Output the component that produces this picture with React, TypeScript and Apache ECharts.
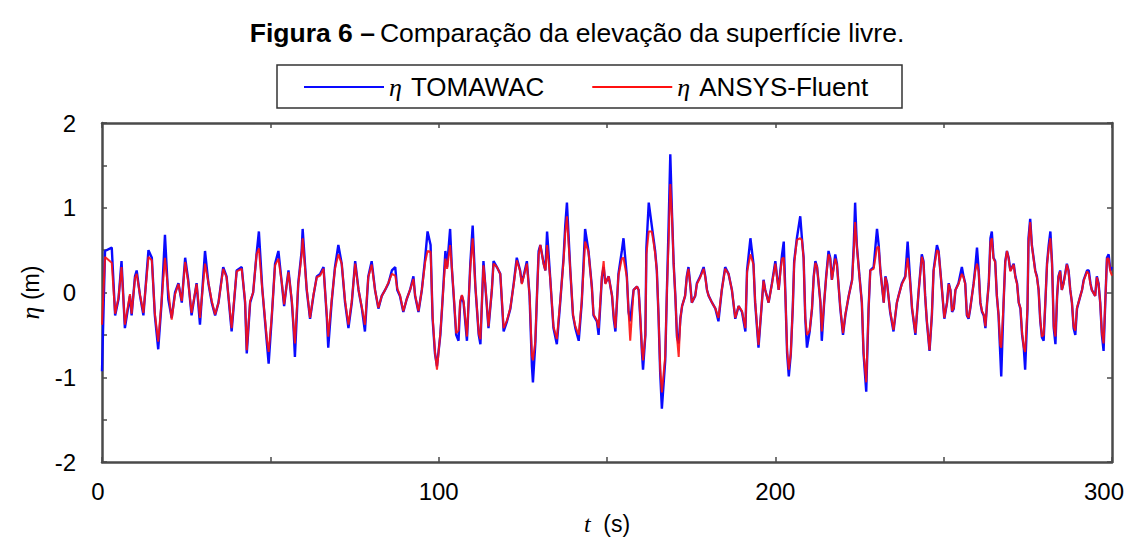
import React, { useEffect, useRef } from "react";
import * as echarts from "echarts";

const titleBold = "Figura 6 –";
const titleRest = "Comparação da elevação da superfície livre.";
const seriesNames = ["TOMAWAC", "ANSYS-Fluent"];
const xTicks = [0, 100, 200, 300];
const yTicks = [-2, -1, 0, 1, 2];

const tomawac = [
[0,-0.93],[0.9,0.49],[2.9,0.53],[3.9,-0.27],[4.9,-0.08],[5.8,0.37],[6.8,-0.42],[8.3,-0.04],[8.8,-0.27],[9.8,0.19],[10.3,0.26],[11.3,-0.04],[12.3,-0.27],[13.8,0.5],[14.8,0.41],[15.7,-0.27],[16.7,-0.67],[17.7,-0.12],[18.7,0.68],[19.7,-0.08],[20.7,-0.3],[21.7,0],[22.7,0.11],[23.7,-0.12],[24.7,0.41],[25.6,0.15],[26.6,-0.27],[28.1,0.11],[29.1,-0.38],[30.6,0.49],[31.6,0.11],[32.6,-0.12],[33.6,-0.27],[34.6,-0.12],[36,0.3],[37,0.19],[38.5,-0.46],[40,0.26],[41.5,0.3],[42.5,-0.12],[43,-0.72],[44,-0.12],[44.9,0],[45.9,0.45],[46.6,0.72],[47.6,0.05],[49,-0.61],[49.5,-0.84],
[50.4,-0.31],[51.4,0.34],[52.4,0.49],[53.4,0.11],[54.1,-0.16],[54.9,0.11],[55.4,0.26],[56.4,-0.12],[56.9,-0.42],[57.3,-0.76],[58.3,0.11],[59.3,0.49],[59.6,0.75],[60.8,0.03],[61.8,-0.31],[62.8,-0.04],[63.8,0.19],[64.8,0.22],[65.8,0.3],[66.8,-0.31],[67.2,-0.65],[68.2,-0.12],[69.2,0.3],[70.2,0.56],[71.2,0.34],[72.2,-0.12],[73.2,-0.42],[74.2,-0.12],[75.2,0.37],[76.2,0.03],[77.2,-0.19],[78.1,-0.46],[79.1,0.19],[80.1,0.37],[81.1,0.03],[82.1,-0.19],[83.1,-0.04],[84.1,0.03],[85.1,0.11],[86.1,0.26],[87.1,0.3],[87.7,0.03],[88.5,-0.04],[89.5,-0.23],[90.5,-0.08],[91.5,0.03],[92.5,0.19],[93,-0.04],[94,-0.23],[95,0.03],[96,0.41],[96.7,0.72],[97.6,0.56],[98.2,-0.31],[98.9,-0.72],[99.5,-0.87],
[100.5,-0.5],[101,-0.19],[102,0.49],[102.5,0.3],[103.4,0.75],[103.9,0.3],[104.6,-0.12],[105.2,-0.5],[105.9,-0.57],[106.4,-0.12],[106.9,-0.04],[107.4,-0.12],[108.4,-0.57],[109.4,0.34],[110.1,0.79],[110.9,0.07],[111.9,-0.5],[112.4,-0.61],[113.3,0.37],[113.8,0.11],[114.8,-0.42],[115.8,0.03],[116.3,0.37],[117.3,0.3],[118.3,0.22],[119.3,-0.46],[120.3,-0.34],[121.3,-0.19],[122.3,0.11],[123.2,0.41],[124.2,0.26],[124.7,0.11],[125.2,0.19],[126.2,0.37],[127,-0.04],[127.7,-0.87],[128,-1.06],[128.7,-0.61],[129.2,-0.04],[129.7,0.49],[130.2,0.56],[131.2,0.34],[131.7,0.26],[132.2,0.72],[133.1,0.19],[134.1,-0.42],[135.1,-0.61],[136.1,-0.12],[137.1,0.41],[137.6,0.79],[138.1,1.06],[139.1,0.26],[139.9,-0.27],[140.6,-0.42],[141.6,-0.57],[142.5,-0.12],[143.5,0.75],[144.5,0.49],[145.5,0.07],[146,-0.27],[147,-0.34],[147.5,-0.5],[148.5,0.19],[149,0.3],[149.5,0.11],
[150.5,0.19],[151.5,-0.04],[152,-0.31],[152.5,-0.46],[153.4,0.22],[154.4,0.49],[154.9,0.64],[155.9,0.19],[156.4,-0.23],[156.9,-0.34],[157.9,0.03],[158.9,0.07],[159.4,0.03],[159.9,-0.31],[160.4,-0.72],[160.7,-0.91],[161.4,-0.5],[161.7,0.53],[162.4,1.06],[163.3,0.79],[163.8,0.64],[164.3,0.49],[164.8,0.26],[165.3,-0.27],[165.8,-0.95],[166.3,-1.37],[167.3,-0.8],[167.8,0.03],[168.3,0.79],[168.8,1.63],[169.3,0.94],[169.8,0.34],[170.3,-0.04],[170.8,-0.53],[171.3,-0.6],[171.8,-0.31],[172.3,-0.16],[173.2,-0.04],[173.7,0.19],[174.2,0.3],[174.7,0.11],[175.2,-0.12],[176.2,-0.04],[176.7,0.11],[177.7,0.19],[178.7,0.3],[179.2,0.19],[179.7,0.03],[180.2,-0.04],[181.2,-0.12],[182.2,-0.19],[183.1,-0.34],[184.1,0.03],[185.1,0.3],[186.1,0.22],[187.1,0.03],[188.1,-0.31],[189.1,-0.16],[190.1,-0.23],[191.1,-0.46],[191.6,0.26],[192.6,0.64],[193.5,0.34],[194,-0.12],[195,-0.65],[196,-0.12],[196.5,0.15],[197,0.03],[198,-0.12],[199,0.11],
[200,0.37],[200.5,0.19],[201,0.03],[201.5,0.26],[202,0.45],[202.5,0.6],[203,-0.04],[203.5,-0.72],[204,-0.99],[204.6,-0.72],[205.2,-0.16],[205.6,0.37],[206.4,0.64],[207.4,0.9],[207.9,0.64],[208.4,0.41],[208.9,-0.31],[209.4,-0.65],[210.2,-0.46],[210.9,-0.19],[211.4,0.19],[211.9,0.37],[212.4,0.3],[213.4,-0.12],[213.8,-0.57],[214.5,-0.12],[215.1,0.19],[215.8,0.49],[216.3,0.41],[216.8,0.15],[217.8,0.45],[218.3,0.34],[219.3,-0.19],[220.1,-0.5],[220.8,-0.27],[221.8,-0.04],[222.8,0.15],[223.3,0.56],[223.7,1.06],[224.2,0.56],[225,0.19],[225.7,-0.12],[226.2,-0.72],[227,-1.17],[227.7,-0.19],[228.2,0.26],[229.2,0.3],[230.2,0.75],[230.7,0.56],[231.2,0.26],[232.2,-0.12],[232.7,0.19],[233.2,0.11],[234.1,-0.23],[235.1,-0.46],[236.1,-0.12],[236.6,-0.04],[237.6,0.11],[238.6,0.19],[239.3,0.6],[240.1,0.11],[240.6,-0.19],[241.6,-0.5],[242.6,0.03],[243.5,0.45],[244,0.37],[244.5,-0.04],[245,-0.34],[245.8,-0.69],[246.5,-0.27],[247,0.26],[248,0.56],[248.5,0.49],[249.5,0.03],
[250.2,-0.31],[251,-0.12],[251.5,0.11],[252,0.03],[252.5,-0.23],[253,-0.19],[253.5,0.03],[254.4,0.11],[255.4,0.3],[255.9,0.19],[256.4,0.11],[256.9,-0.27],[257.4,-0.31],[257.9,-0.19],[258.9,0.11],[259.4,0.3],[259.9,0.53],[260.4,0.26],[260.9,-0.12],[261.4,-0.23],[261.9,-0.27],[262.4,-0.42],[262.9,-0.12],[263.4,0.11],[263.9,0.64],[264.3,0.72],[264.8,0.41],[265.3,0.37],[265.8,-0.04],[266.3,-0.27],[266.8,-0.72],[267.1,-0.99],[267.8,-0.12],[268.3,0.37],[268.8,0.49],[269.3,0.41],[269.8,0.26],[270.8,0.34],[271.3,0.19],[271.8,0.11],[272.3,-0.12],[272.8,-0.19],[273.3,-0.5],[273.8,-0.65],[274.2,-0.91],[274.9,-0.19],[275.2,0.64],[275.7,0.87],[276.2,0.56],[277.2,0.26],[277.7,0.19],[278.2,0.03],[278.7,-0.34],[279.2,-0.53],[279.7,-0.57],[280.2,-0.12],[280.7,0.34],[281.2,0.56],[281.7,0.72],[282.2,0.34],[282.7,-0.42],[283.2,-0.61],[283.7,-0.04],[284.1,0.19],[284.6,0.26],[285.1,0.03],[285.6,0.11],[286.6,0.34],[287.1,0.26],[287.6,0.03],[288.1,-0.12],[288.6,-0.42],[289.1,-0.5],[289.6,-0.19],[290.6,-0.04],[291.1,0.03],[291.6,0.15],[292.6,0.26],[293.1,0.26],[293.6,0.11],[294,0.03],[295,-0.04],[295.5,0.19],[296,0.11],[296.5,-0.12],[297,-0.5],[297.5,-0.69],[298,-0.12],[298.5,0.41],[299,0.45],[299.5,0.26],[300,0.3]
];

const fluent = [
[0,-0.38],[0.9,0.42],[2.9,0.35],[3.9,-0.25],[4.9,-0.06],[5.8,0.3],[6.8,-0.38],[8.3,-0.02],[8.8,-0.25],[9.8,0.17],[10.3,0.22],[11.3,-0.03],[12.3,-0.24],[13.8,0.42],[14.8,0.38],[15.7,-0.25],[16.7,-0.58],[17.7,-0.1],[18.7,0.41],[19.7,0.02],[20.7,-0.32],[21.7,-0.02],[22.7,0.1],[23.7,-0.1],[24.7,0.36],[25.6,0.13],[26.6,-0.24],[28.1,0.1],[29.1,-0.3],[30.6,0.34],[31.6,0.12],[32.6,-0.1],[33.6,-0.26],[34.6,-0.12],[36,0.28],[37,0.18],[38.5,-0.42],[40,0.25],[41.5,0.28],[42.5,-0.1],[43,-0.68],[44,-0.1],[44.9,0],[45.9,0.45],[46.6,0.52],[47.6,0.04],[49,-0.56],[49.5,-0.7],
[50.4,-0.29],[51.4,0.32],[52.4,0.4],[53.4,0.12],[54.1,-0.14],[54.9,0.1],[55.4,0.24],[56.4,-0.1],[56.9,-0.4],[57.3,-0.6],[58.3,0.1],[59.3,0.45],[59.6,0.64],[60.8,0.05],[61.8,-0.3],[62.8,-0.03],[63.8,0.18],[64.8,0.2],[65.8,0.28],[66.8,-0.28],[67.2,-0.52],[68.2,-0.1],[69.2,0.28],[70.2,0.45],[71.2,0.34],[72.2,-0.1],[73.2,-0.38],[74.2,-0.1],[75.2,0.34],[76.2,0.03],[77.2,-0.18],[78.1,-0.38],[79.1,0.18],[80.1,0.33],[81.1,0.03],[82.1,-0.18],[83.1,-0.04],[84.1,0.03],[85.1,0.12],[86.1,0.22],[87.1,0.2],[87.7,0.05],[88.5,-0.03],[89.5,-0.22],[90.5,-0.08],[91.5,0.03],[92.5,0.16],[93,-0.03],[94,-0.22],[95,0.03],[96,0.36],[96.7,0.49],[97.6,0.48],[98.2,-0.28],[98.9,-0.7],[99.5,-0.91],
[100.5,-0.48],[101,-0.18],[102,0.4],[102.5,0.28],[103.4,0.56],[103.9,0.3],[104.6,-0.1],[105.2,-0.48],[105.9,-0.45],[106.4,-0.1],[106.9,-0.03],[107.4,-0.1],[108.4,-0.52],[109.4,0.3],[110.1,0.64],[110.9,0.08],[111.9,-0.48],[112.4,-0.55],[113.3,0.32],[113.8,0.12],[114.8,-0.4],[115.8,0.03],[116.3,0.34],[117.3,0.3],[118.3,0.22],[119.3,-0.42],[120.3,-0.33],[121.3,-0.18],[122.3,0.1],[123.2,0.38],[124.2,0.25],[124.7,0.1],[125.2,0.18],[126.2,0.34],[127,-0.03],[127.7,-0.75],[128,-0.8],[128.7,-0.58],[129.2,-0.04],[129.7,0.45],[130.2,0.56],[131.2,0.33],[131.7,0.26],[132.2,0.56],[133.1,0.18],[134.1,-0.4],[135.1,-0.55],[136.1,-0.1],[137.1,0.38],[137.6,0.7],[138.1,0.9],[139.1,0.26],[139.9,-0.26],[140.6,-0.4],[141.6,-0.5],[142.5,-0.1],[143.5,0.6],[144.5,0.48],[145.5,0.06],[146,-0.26],[147,-0.33],[147.5,-0.42],[148.5,0.19],[149,0.37],[149.5,0.1],
[150.5,0.19],[151.5,-0.04],[152,-0.28],[152.5,-0.42],[153.4,0.2],[154.4,0.4],[154.9,0.41],[155.9,0.18],[156.4,-0.22],[156.9,-0.57],[157.9,0.03],[158.9,0.07],[159.4,0.03],[159.9,-0.3],[160.4,-0.68],[160.7,-0.8],[161.4,-0.5],[161.7,0.45],[162.4,0.72],[163.3,0.72],[163.8,0.6],[164.3,0.46],[164.8,0.26],[165.3,-0.26],[165.8,-0.9],[166.3,-1.18],[167.3,-0.75],[167.8,0.02],[168.3,0.6],[168.8,1.28],[169.3,0.9],[169.8,0.33],[170.3,-0.04],[170.8,-0.53],[171.3,-0.76],[171.8,-0.3],[172.3,-0.16],[173.2,-0.04],[173.7,0.18],[174.2,0.28],[174.7,0.1],[175.2,-0.12],[176.2,-0.04],[176.7,0.1],[177.7,0.18],[178.7,0.28],[179.2,0.18],[179.7,0.03],[180.2,-0.04],[181.2,-0.12],[182.2,-0.19],[183.1,-0.3],[184.1,0.03],[185.1,0.28],[186.1,0.22],[187.1,0.03],[188.1,-0.3],[189.1,-0.16],[190.1,-0.22],[191.1,-0.42],[191.6,0.24],[192.6,0.45],[193.5,0.33],[194,-0.1],[195,-0.62],[196,-0.12],[196.5,0.14],[197,0.03],[198,-0.12],[199,0.1],
[200,0.34],[200.5,0.18],[201,0.03],[201.5,0.24],[202,0.4],[202.5,0.41],[203,-0.04],[203.5,-0.68],[204,-0.91],[204.6,-0.72],[205.2,-0.15],[205.6,0.34],[206.4,0.62],[207.4,0.64],[207.9,0.62],[208.4,0.4],[208.9,-0.3],[209.4,-0.5],[210.2,-0.45],[210.9,-0.18],[211.4,0.18],[211.9,0.35],[212.4,0.3],[213.4,-0.12],[213.8,-0.46],[214.5,-0.12],[215.1,0.18],[215.8,0.45],[216.3,0.4],[216.8,0.15],[217.8,0.4],[218.3,0.33],[219.3,-0.18],[220.1,-0.48],[220.8,-0.26],[221.8,-0.04],[222.8,0.14],[223.3,0.5],[223.7,0.83],[224.2,0.55],[225,0.18],[225.7,-0.12],[226.2,-0.7],[227,-1.06],[227.7,-0.19],[228.2,0.26],[229.2,0.28],[230.2,0.53],[230.7,0.54],[231.2,0.26],[232.2,-0.12],[232.7,0.18],[233.2,0.1],[234.1,-0.22],[235.1,-0.44],[236.1,-0.12],[236.6,-0.04],[237.6,0.1],[238.6,0.18],[239.3,0.41],[240.1,0.1],[240.6,-0.18],[241.6,-0.48],[242.6,0.03],[243.5,0.42],[244,0.36],[244.5,-0.04],[245,-0.33],[245.8,-0.68],[246.5,-0.26],[247,0.25],[248,0.5],[248.5,0.48],[249.5,0.03],
[250.2,-0.3],[251,-0.12],[251.5,0.1],[252,0.03],[252.5,-0.22],[253,-0.18],[253.5,0.03],[254.4,0.1],[255.4,0.22],[255.9,0.18],[256.4,0.1],[256.9,-0.26],[257.4,-0.3],[257.9,-0.18],[258.9,0.1],[259.4,0.26],[259.9,0.34],[260.4,0.25],[260.9,-0.12],[261.4,-0.22],[261.9,-0.26],[262.4,-0.4],[262.9,-0.12],[263.4,0.1],[263.9,0.6],[264.3,0.64],[264.8,0.4],[265.3,0.36],[265.8,-0.04],[266.3,-0.26],[266.8,-0.62],[267.1,-0.65],[267.8,-0.12],[268.3,0.36],[268.8,0.49],[269.3,0.4],[269.8,0.25],[270.8,0.33],[271.3,0.18],[271.8,0.1],[272.3,-0.12],[272.8,-0.18],[273.3,-0.48],[273.8,-0.65],[274.2,-0.7],[274.9,-0.18],[275.2,0.6],[275.7,0.83],[276.2,0.55],[277.2,0.25],[277.7,0.18],[278.2,0.03],[278.7,-0.33],[279.2,-0.52],[279.7,-0.5],[280.2,-0.12],[280.7,0.33],[281.2,0.52],[281.7,0.64],[282.2,0.33],[282.7,-0.4],[283.2,-0.52],[283.7,-0.04],[284.1,0.18],[284.6,0.25],[285.1,0.03],[285.6,0.1],[286.6,0.33],[287.1,0.25],[287.6,0.03],[288.1,-0.12],[288.6,-0.4],[289.1,-0.45],[289.6,-0.18],[290.6,-0.04],[291.1,0.03],[291.6,0.14],[292.6,0.25],[293.1,0.22],[293.6,0.1],[294,0.03],[295,-0.04],[295.5,0.18],[296,0.1],[296.5,-0.12],[297,-0.48],[297.5,-0.6],[298,-0.12],[298.5,0.4],[299,0.4],[299.5,0.25],[300,0.2]
];

const FONT = "'Liberation Sans', Arial, sans-serif";
const SERIF = "'Liberation Serif', 'Times New Roman', serif";
const FRAME = "#4a4a4a";

export default function App() {
  const ref = useRef<HTMLDivElement>(null);
  useEffect(() => {
    if (!ref.current) return;
    const chart = echarts.init(ref.current, null, { renderer: "svg" });
    const axisCommon = {
      type: "value",
      axisLine: { show: true, onZero: false, lineStyle: { color: FRAME, width: 2.5 } },
      axisTick: { show: true, inside: true, length: 5, lineStyle: { color: FRAME, width: 1.5 } },
      splitLine: { show: false },
    };
    chart.setOption({
      animation: false,
      backgroundColor: "#ffffff",
      title: {
        text: `{b|${titleBold}} {n|${titleRest}}`,
        left: 572,
        textAlign: "center",
        top: 14,
        textStyle: {
          fontWeight: "normal",
          rich: {
            b: { fontFamily: FONT, fontWeight: "bold", fontSize: 26.5, color: "#000" },
            n: { fontFamily: FONT, fontWeight: "normal", fontSize: 26.5, color: "#000" },
          },
        },
      },
      graphic: [
        {
          type: "rect",
          shape: { x: 277, y: 65, width: 625, height: 43 },
          style: { fill: "none", stroke: "#333", lineWidth: 1.5 },
          z: 10,
        },
      ],
      legend: {
        left: 299,
        top: 69,
        itemWidth: 80,
        itemHeight: 2,
        itemGap: 48,
        icon: "rect",
        data: seriesNames,
        formatter: (n: string) => `{e|η}{s| }{t|${n}}`,
        textStyle: {
          rich: {
            e: { fontFamily: SERIF, fontStyle: "italic", fontSize: 26, color: "#000" },
            s: { fontFamily: FONT, fontSize: 26, width: 9 },
            t: { fontFamily: FONT, fontSize: 26, color: "#000" },
          },
        },
      },
      grid: { left: 102, right: 19, top: 123, bottom: 65 },
      xAxis: [
        {
          ...axisCommon,
          position: "bottom",
          min: 0,
          max: 300,
          interval: 100,
          minorTick: { show: true, splitNumber: 2, length: 5, lineStyle: { color: FRAME, width: 1.5 } },
          axisLabel: {
            margin: 17,
            fontFamily: FONT,
            fontSize: 24,
            color: "#000",
            customValues: xTicks,
            formatter: (v: number) => (v === 300 ? `{r|${v}}` : v === 0 ? `{z|${v}}` : `${v}`),
            rich: {
              r: { fontFamily: FONT, fontSize: 24, color: "#000", padding: [0, 16, 0, 0] },
              z: { fontFamily: FONT, fontSize: 24, color: "#000", padding: [0, 8, 0, 0] },
            },
          },
          name: "{i|t}  (s)",
          nameLocation: "middle",
          nameGap: 50,
          nameTextStyle: {
            fontFamily: FONT,
            fontSize: 23,
            color: "#000",
            rich: {
              i: { fontFamily: SERIF, fontStyle: "italic", fontSize: 24, color: "#000" },
            },
          },
        },
        {
          ...axisCommon,
          position: "top",
          min: 0,
          max: 300,
          interval: 50,
          axisLabel: { show: false },
        },
      ],
      yAxis: [
        {
          ...axisCommon,
          position: "left",
          min: -2,
          max: 2,
          interval: 1,
          minorTick: { show: true, splitNumber: 2, length: 5, lineStyle: { color: FRAME, width: 1.5 } },
          axisLabel: { margin: 26, fontFamily: FONT, fontSize: 24, color: "#000", customValues: yTicks },
          name: "{i|η} (m)",
          nameLocation: "middle",
          nameGap: 52,
          nameRotate: 90,
          nameTextStyle: {
            fontFamily: FONT,
            fontSize: 23,
            color: "#000",
            rich: {
              i: { fontFamily: SERIF, fontStyle: "italic", fontSize: 26, color: "#000" },
            },
          },
        },
        {
          ...axisCommon,
          position: "right",
          min: -2,
          max: 2,
          interval: 1,
          axisLabel: { show: false },
        },
      ],
      series: [
        {
          name: seriesNames[0],
          type: "line",
          data: tomawac,
          showSymbol: false,
          symbol: "none",
          lineStyle: { color: "#0a0aff", width: 2.4 },
          itemStyle: { color: "#0a0aff" },
          z: 2,
        },
        {
          name: seriesNames[1],
          type: "line",
          data: fluent,
          showSymbol: false,
          symbol: "none",
          lineStyle: { color: "#ff1010", width: 2, opacity: 0.9 },
          itemStyle: { color: "#ff1010" },
          z: 3,
        },
      ],
    });
    return () => chart.dispose();
  }, []);
  return (
    <div
      ref={ref}
      style={{ position: "fixed", left: 0, top: 0, width: 1131, height: 541, background: "#fff" }}
    />
  );
}
